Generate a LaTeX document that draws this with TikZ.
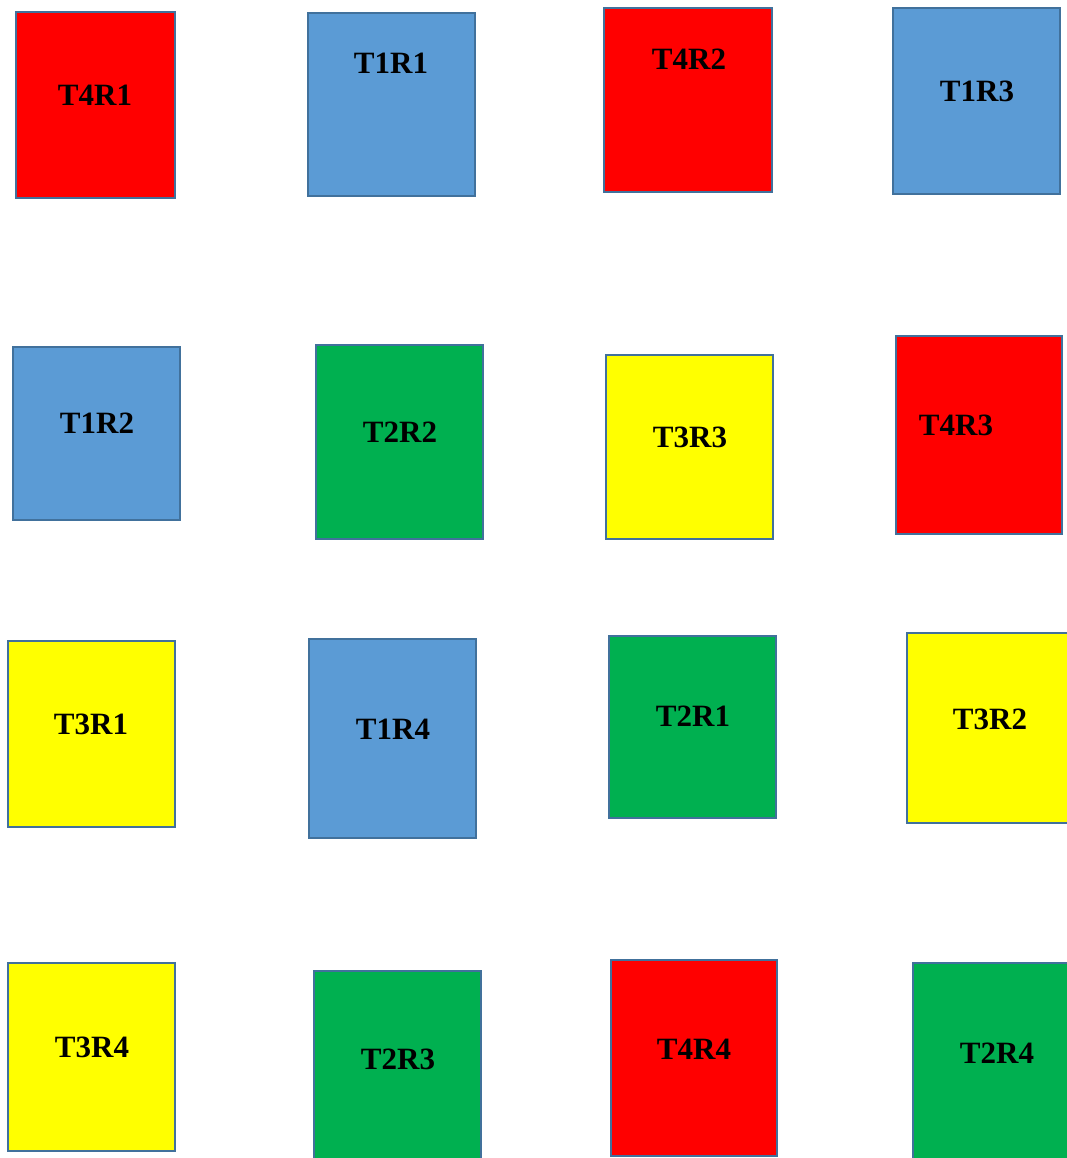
\documentclass[tikz,border=0pt]{standalone}
\usepackage{fontspec}
\setmainfont{Liberation Serif}
\definecolor{cRed}{HTML}{FF0000}
\definecolor{cBlue}{HTML}{5B9BD5}
\definecolor{cGreen}{HTML}{00B050}
\definecolor{cYellow}{HTML}{FFFF00}
\definecolor{cEdge}{HTML}{41719C}
\tikzset{
  tile/.style={draw=cEdge, line width=2pt, inner sep=0pt, outer sep=0pt},
  lbl/.style={font=\fontsize{31}{31}\selectfont\bfseries, text=black, inner sep=0pt}
}
% #1 name, #2 x1, #3 y1, #4 x2, #5 y2, #6 colour, #7 text x, #8 text y, #9 text
\newcommand\tileat[9]{%
  \node[tile, fill=#6, minimum width={(#4-#2)*1pt}, minimum height={(#5-#3)*1pt}]
    (#1) at ({(#2+#4)/2*1pt},{-(#3+#5)/2*1pt}) {};
  \node[lbl] (#1t) at (#7pt,-#8pt) {#9};
}
\begin{document}
\begin{tikzpicture}
\useasboundingbox (0,0) rectangle (1067pt,-1158pt);
\clip (0,0) rectangle (1067pt,-1158pt);
\fill[white] (0,0) rectangle (1067pt,-1158pt);
% row 1
\tileat{a}{16}{12}{175}{198}{cRed}{95}{95}{T4R1}
\tileat{b}{308}{13}{475}{196}{cBlue}{391}{63}{T1R1}
\tileat{c}{604}{8}{772}{192}{cRed}{689}{59}{T4R2}
\tileat{d}{893}{8}{1060}{194}{cBlue}{977}{91}{T1R3}
% row 2
\tileat{e}{13}{347}{180}{520}{cBlue}{97}{423}{T1R2}
\tileat{f}{316}{345}{483}{539}{cGreen}{400}{432}{T2R2}
\tileat{g}{606}{355}{773}{539}{cYellow}{690}{437}{T3R3}
\tileat{h}{896}{336}{1062}{534}{cRed}{956}{425}{T4R3}
% row 3
\tileat{i}{8}{641}{175}{827}{cYellow}{91}{724}{T3R1}
\tileat{j}{309}{639}{476}{838}{cBlue}{393}{729}{T1R4}
\tileat{k}{609}{636}{776}{818}{cGreen}{693}{716}{T2R1}
\tileat{l}{907}{633}{1075}{823}{cYellow}{990}{719}{T3R2}
% row 4
\tileat{m}{8}{963}{175}{1151}{cYellow}{92}{1047}{T3R4}
\tileat{n}{314}{971}{481}{1165}{cGreen}{398}{1059}{T2R3}
\tileat{o}{611}{960}{777}{1156}{cRed}{694}{1049}{T4R4}
\tileat{p}{913}{963}{1080}{1165}{cGreen}{997}{1053}{T2R4}
\end{tikzpicture}
\end{document}
